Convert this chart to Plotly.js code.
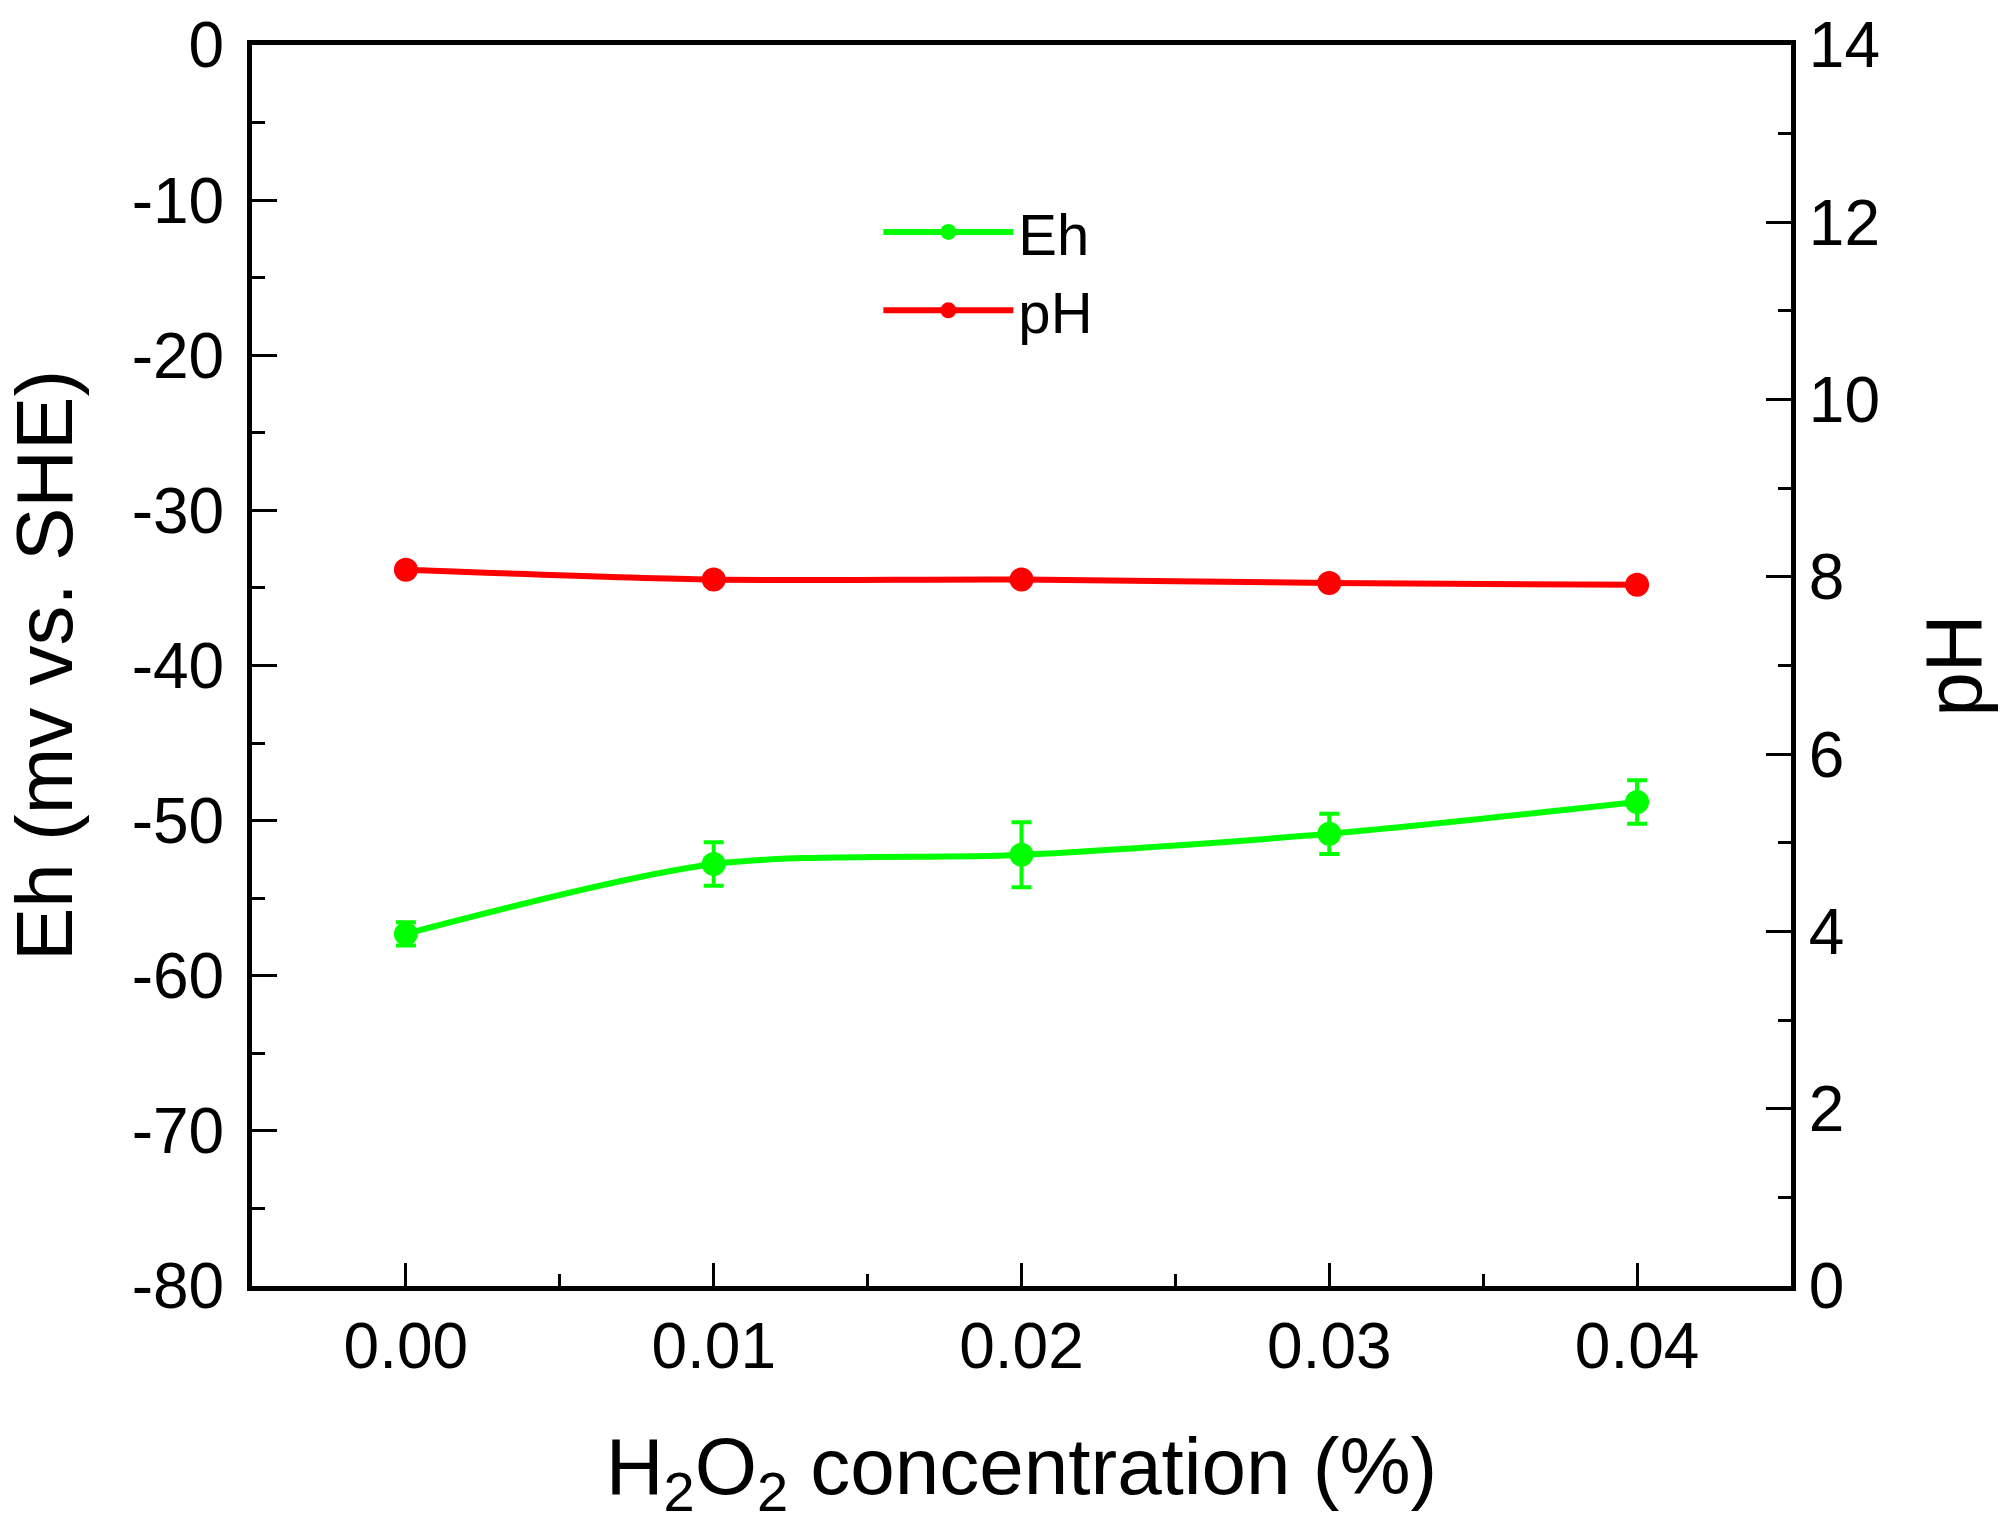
<!DOCTYPE html>
<html>
<head>
<meta charset="utf-8">
<script src="https://cdn.plot.ly/plotly-3.0.1.min.js"></script>
<style>
  body { margin: 0; background: #fff; }
  #chart { width: 2008px; height: 1538px; }
</style>
</head>
<body>
<div id="chart"></div>
<script>
// H2O2 concentration (%)
var conc = [0.00, 0.01, 0.02, 0.03, 0.04];
var concLabels = ["0.00", "0.01", "0.02", "0.03", "0.04"];
// Eh (mV vs. SHE) and its error
var eh = [-57.3, -52.8, -52.2, -50.85, -48.8];
var ehErr = [0.75, 1.4, 2.1, 1.3, 1.4];
// pH
var ph = [8.08, 7.97, 7.97, 7.93, 7.91];
// left axis ticks (plain hyphen like the original)
var ehTicks = [0, -10, -20, -30, -40, -50, -60, -70, -80];
var ehTickText = ["0", "-10", "-20", "-30", "-40", "-50", "-60", "-70", "-80"];

var fontFamily = "Liberation Sans, Arial, sans-serif";

let traceEh = {
    x: conc,
    y: eh,
    name: "Eh",
    type: "scatter",
    mode: "lines+markers",
    line: { color: "#00ff00", width: 6, shape: "spline", smoothing: 0.8 },
    marker: { color: "#00ff00", size: 24, symbol: "circle" },
    error_y: { type: "data", array: ehErr, visible: true, color: "#00ff00", thickness: 4, width: 10 }
};

let tracePh = {
    x: conc,
    y: ph,
    name: "pH",
    type: "scatter",
    mode: "lines+markers",
    yaxis: "y2",
    line: { color: "#ff0000", width: 6, shape: "spline", smoothing: 0.8 },
    marker: { color: "#ff0000", size: 24, symbol: "circle" }
};

let layout = {
    width: 2008,
    height: 1538,
    paper_bgcolor: "#fff",
    plot_bgcolor: "#fff",
    margin: { l: 252, r: 217, t: 45, b: 252 },
    font: { family: fontFamily, size: 64, color: "#000" },
    showlegend: true,
    legend: {
        x: 0.407, y: 0.885, xanchor: "left", yanchor: "top",
        bgcolor: "rgba(0,0,0,0)",
        font: { family: fontFamily, size: 58, color: "#000" },
        itemwidth: 130,
        tracegroupgap: 0
    },
    xaxis: {
        range: [-0.005, 0.045],
        tickvals: conc,
        ticktext: concLabels,
        ticks: "inside", ticklen: 23, tickwidth: 3, tickcolor: "#000",
        minor: { dtick: 0.005, tick0: 0, ticks: "inside", ticklen: 12, tickwidth: 3, tickcolor: "#000" },
        showline: true, linewidth: 5, linecolor: "#000", mirror: true,
        showgrid: false, zeroline: false,
        ticklabelstandoff: 0,
        tickfont: { size: 64 },
        title: { text: "H<sub>2</sub>O<sub>2</sub> concentration (%)", font: { size: 80 }, standoff: 59 }
    },
    yaxis: {
        range: [-80, 0],
        tickvals: ehTicks,
        ticktext: ehTickText,
        ticks: "inside", ticklen: 25, tickwidth: 3, tickcolor: "#000",
        minor: { dtick: 5, ticks: "inside", ticklen: 13, tickwidth: 3, tickcolor: "#000" },
        showline: true, linewidth: 5, linecolor: "#000",
        showgrid: false, zeroline: false,
        ticklabelstandoff: 10,
        tickfont: { size: 64 },
        title: { text: "Eh (mv vs. SHE)", font: { size: 80 }, standoff: 38 }
    },
    yaxis2: {
        range: [0, 14],
        dtick: 2,
        overlaying: "y",
        side: "right",
        ticks: "inside", ticklen: 25, tickwidth: 3, tickcolor: "#000",
        minor: { dtick: 1, ticks: "inside", ticklen: 13, tickwidth: 3, tickcolor: "#000" },
        showline: true, linewidth: 5, linecolor: "#000",
        showgrid: false, zeroline: false,
        ticklabelstandoff: 0,
        tickfont: { size: 64 },
        title: { text: "pH", font: { size: 80 }, standoff: 48 }
    }
};

Plotly.newPlot("chart", [traceEh, tracePh], layout, { displayModeBar: false, staticPlot: true });
</script>
</body>
</html>
